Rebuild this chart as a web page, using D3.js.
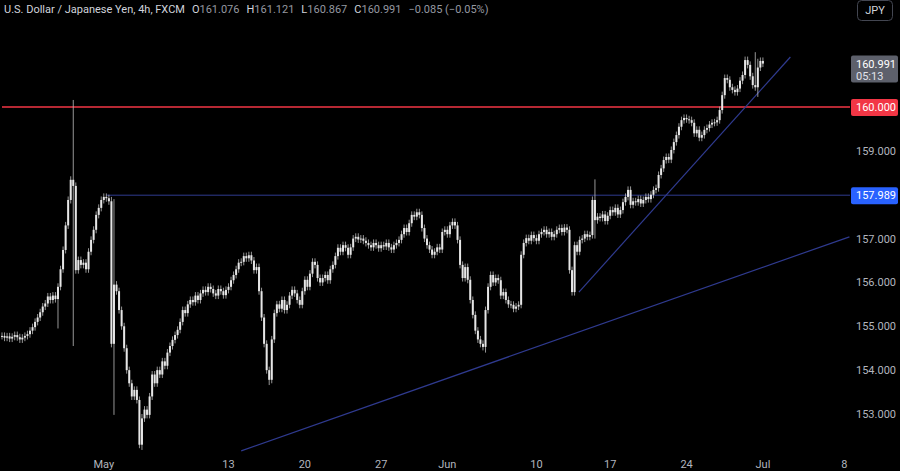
<!DOCTYPE html>
<html><head><meta charset="utf-8">
<script src="https://cdn.jsdelivr.net/npm/d3@7"></script>
<style>body{margin:0;background:#000;overflow:hidden}svg{display:block}</style>
</head><body><svg id="c" width="900" height="471"></svg>
<script>
const closes = [
154.78,154.74,154.77,154.72,154.76,154.80,154.75,154.70,154.74,154.78,
154.82,154.90,154.98,155.10,155.20,155.32,155.45,155.52,
155.68,155.60,155.70,155.62,
155.90,156.30,156.74,
157.30,157.88,
158.34,158.20,
156.28,156.51,156.40,156.45,156.30,
156.70,156.97,157.20,157.54,157.70,
157.88,157.95,157.92,157.85,
154.60,155.95,155.80,
155.37,155.00,154.50,154.00,
153.70,153.40,153.55,153.32,
152.30,152.90,153.10,152.98,
153.40,153.90,153.70,154.00,
153.90,154.20,154.10,154.40,
154.55,154.69,154.80,154.92,
155.10,155.37,155.30,
155.50,155.60,155.55,155.70,155.60,155.75,
155.83,155.78,155.90,155.85,
155.75,155.70,155.85,155.80,155.71,155.83,155.90,
156.05,156.17,156.30,156.45,
156.47,156.60,156.55,156.62,
156.50,156.28,156.35,
155.80,155.20,154.60,154.00,153.78,154.70,155.30,
155.50,155.40,155.60,155.37,155.49,155.70,155.83,155.75,155.60,155.49,
155.80,156.06,155.90,156.20,156.47,156.40,156.10,156.00,
156.10,156.17,156.05,156.30,156.40,156.60,156.79,156.70,156.85,156.79,
156.63,156.80,157.00,157.04,156.98,
157.00,156.95,156.90,156.85,156.80,156.90,156.85,156.78,156.85,156.82,156.90,156.80,156.75,156.85,156.90,
156.97,157.10,157.24,157.15,157.35,157.54,157.50,157.60,157.54,
157.24,157.00,156.85,156.75,156.63,156.70,156.80,156.75,
157.15,157.20,157.10,157.30,157.38,157.30,
156.97,156.40,156.10,156.35,156.06,155.60,155.26,154.90,154.70,154.60,154.53,
155.37,155.90,156.17,156.00,156.10,156.05,155.70,155.78,155.60,155.50,155.49,155.40,155.45,155.49,
156.63,156.90,157.01,156.95,157.08,157.01,156.95,157.10,157.15,157.20,157.10,157.15,157.04,157.10,157.20,157.24,157.15,157.25,157.20,
156.28,155.78,
156.85,156.70,156.97,157.00,157.10,157.04,157.08,157.88,
157.42,157.50,157.47,157.55,157.40,157.52,157.65,157.60,157.70,157.55,157.65,157.83,157.95,158.11,
157.77,157.85,157.83,157.90,157.80,157.88,157.95,157.90,158.00,158.11,158.15,
158.45,158.60,158.79,158.86,158.80,159.02,159.20,159.36,159.55,159.70,159.75,159.72,159.70,
159.64,159.40,159.48,159.30,159.36,159.48,159.52,159.60,159.64,159.65,159.70,
159.93,160.27,160.66,160.62,160.45,160.39,160.34,160.42,160.60,160.73,161.07,160.96,160.70,160.50,160.45,160.90,161.05,160.99
];
// notable wicks: [candle index, high, low]
const wicks = [[22,155.75,154.95],[28,160.16,154.55],[43,157.95,155.9],[44,157.9,152.98],[55,153.0,152.18],
[105,154.0,153.66],[190,154.8,154.40],[224,156.3,155.72],[233,158.35,157.0],[272,159.7,159.34],[296,161.25,160.8],[297,161.1,160.23]];
const hLines = [{price:160.0,label:"160.000",color:"#f23645",from:0},{price:157.989,label:"157.989",color:"#2962ff",line:"#2f3a8f",from:41}];
const trendLines = [[94,152.16,333,157.04],[226.7,155.78,309.8,161.14]];
const yTicks = [153,154,155,156,157,159];
const xTickIdx = [40,89,119,149,175,210,239,269,299,331];
const xTickLabels = ["May","13","20","27","Jun","10","17","24","Jul","8"];
const lastPrice = "160.991", countdown = "05:13";

const svg = d3.select("#c");
const x = d3.scaleLinear().domain([0, 301]).range([2, 768]);
const y = d3.scaleLinear().domain([153, 160]).range([414, 107]);
const font = "Roboto, 'Noto Sans', sans-serif";

const wmap = new Map(wicks.map(w => [w[0], w]));
const data = closes.map((c, i) => {
  const o = i === 0 ? c : closes[i-1];
  let hi = Math.max(o, c) + 0.08, lo = Math.min(o, c) - 0.08;
  if (wmap.has(i)) { hi = Math.max(hi, wmap.get(i)[1]); lo = Math.min(lo, wmap.get(i)[2]); }
  return {i, o, c, hi, lo};
});

hLines.forEach(h => {
  svg.append("line").attr("x1", x(h.from)).attr("x2", 850).attr("y1", y(h.price)).attr("y2", y(h.price))
    .attr("stroke", h.line || h.color).attr("stroke-width", h.line ? 1 : 1.3);
});
trendLines.forEach(t => {
  svg.append("line").attr("x1", x(t[0])).attr("y1", y(t[1])).attr("x2", x(t[2])).attr("y2", y(t[3]))
    .attr("stroke", "#2f3a8f").attr("stroke-width", 1.2);
});
const g = svg.append("g");
g.selectAll("line.w").data(data).join("line").attr("class","w")
  .attr("x1", d => x(d.i)).attr("x2", d => x(d.i)).attr("y1", d => y(d.hi)).attr("y2", d => y(d.lo))
  .attr("stroke", "#bdbdbd").attr("stroke-width", 0.8);
g.selectAll("rect").data(data).join("rect")
  .attr("x", d => x(d.i) - 1).attr("width", 2)
  .attr("y", d => y(Math.max(d.o, d.c))).attr("height", d => Math.max(1, Math.abs(y(d.o) - y(d.c))))
  .attr("fill", "#e6e6e6");

svg.selectAll("text.yt").data(yTicks).join("text").attr("class","yt")
  .attr("x", 856).attr("y", d => y(d) + 4).text(d => d.toFixed(3))
  .attr("fill", "#b2b5be").attr("font-size", 11).attr("font-family", font);
hLines.forEach(h => {
  svg.append("rect").attr("x", 851).attr("y", y(h.price) - 8).attr("width", 47).attr("height", 17).attr("rx", 2).attr("fill", h.color);
  svg.append("text").attr("x", 856).attr("y", y(h.price) + 4).text(h.label).attr("fill", "#fff").attr("font-size", 11).attr("font-family", font);
});
const ly = y(+lastPrice);
svg.append("rect").attr("x", 851).attr("y", ly - 8).attr("width", 47).attr("height", 27).attr("rx", 2).attr("fill", "#5d606b");
svg.append("text").attr("x", 856).attr("y", ly + 4).text(lastPrice).attr("fill", "#fff").attr("font-size", 11).attr("font-family", font);
svg.append("text").attr("x", 856).attr("y", ly + 16).text(countdown).attr("fill", "#e0e3eb").attr("font-size", 11).attr("font-family", font);

svg.selectAll("text.xt").data(xTickIdx).join("text").attr("class","xt")
  .attr("x", d => x(d)).attr("y", 468).attr("text-anchor", "middle").text((d, i) => xTickLabels[i])
  .attr("fill", "#b2b5be").attr("font-size", 11).attr("font-family", font);

svg.append("rect").attr("x", 857.5).attr("y", 0.5).attr("width", 35).attr("height", 20).attr("rx", 4)
  .attr("fill", "#000").attr("stroke", "#434651");
svg.append("text").attr("x", 875).attr("y", 14).attr("text-anchor", "middle").text("JPY")
  .attr("fill", "#d1d4dc").attr("font-size", 11).attr("font-family", font);

const t = svg.append("text").attr("x", 4).attr("y", 13).attr("font-size", 11).attr("font-family", font).attr("fill", "#d1d4dc");
t.append("tspan").text("U.S. Dollar / Japanese Yen, 4h, FXCM");
[["O","161.076"],["H","161.121"],["L","160.867"],["C","160.991"]].forEach(p => {
  t.append("tspan").attr("dx", 7).text(p[0]);
  t.append("tspan").attr("fill", "#9598a1").text(p[1]);
});
t.append("tspan").attr("dx", 7).attr("fill", "#9598a1").text("−0.085 (−0.05%)");
</script></body></html>
